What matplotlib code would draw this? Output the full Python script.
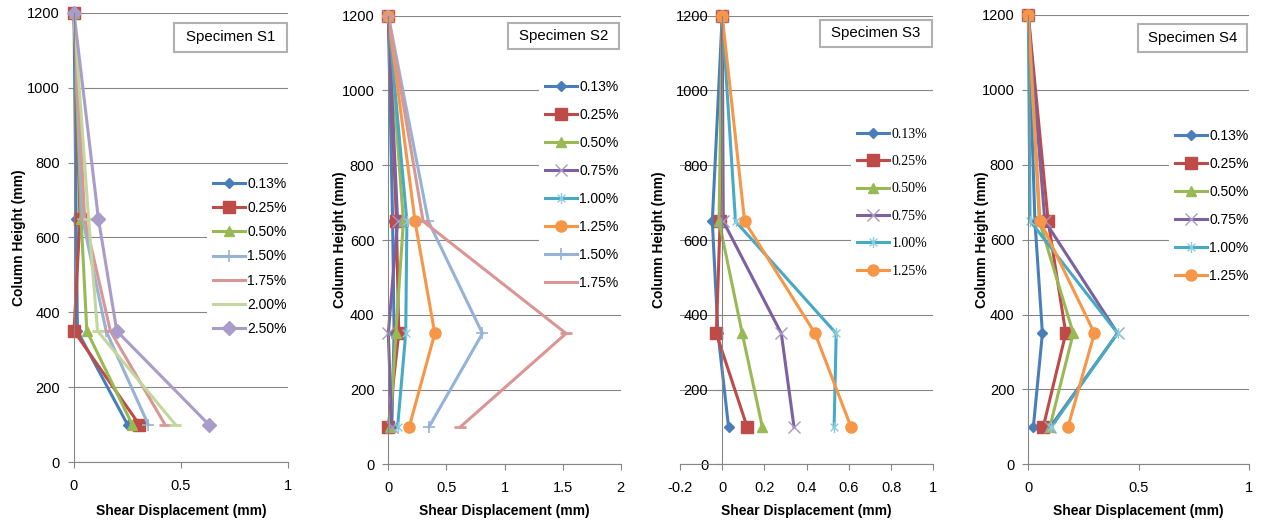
import matplotlib
matplotlib.use("Agg")
import matplotlib.pyplot as plt
from matplotlib.patches import Rectangle
from matplotlib.path import Path

plt.rcParams["font.family"] = ["Liberation Sans", "DejaVu Sans"]

# column heights where displacement was measured (mm)
heights = [100, 350, 650, 1200]

# specimen S1
s1_labels = ["0.13%", "0.25%", "0.50%", "1.50%", "1.75%", "2.00%", "2.50%"]
s1_values = [
    [0.25, 0.016, 0.01, 0.0],
    [0.305, 0.0, 0.028, 0.0],
    [0.272, 0.06, 0.033, 0.0],
    [0.347, 0.15, 0.04, 0.0],
    [0.425, 0.17, 0.05, 0.0],
    [0.474, 0.11, 0.068, 0.0],
    [0.63, 0.20, 0.114, 0.0],
]

# specimen S2
s2_labels = ["0.13%", "0.25%", "0.50%", "0.75%", "1.00%", "1.25%", "1.50%", "1.75%"]
s2_values = [
    [0.03, 0.05, 0.037, 0.0],
    [0.0, 0.09, 0.07, 0.0],
    [0.015, 0.065, 0.13, 0.0],
    [0.03, 0.0, 0.08, 0.0],
    [0.08, 0.15, 0.16, 0.0],
    [0.18, 0.40, 0.23, 0.0],
    [0.35, 0.81, 0.345, 0.0],
    [0.62, 1.53, 0.30, 0.0],
]

# specimen S3
s3_labels = ["0.13%", "0.25%", "0.50%", "0.75%", "1.00%", "1.25%"]
s3_values = [
    [0.03, -0.02, -0.047, 0.0],
    [0.118, -0.028, -0.01, 0.0],
    [0.19, 0.095, -0.015, 0.0],
    [0.34, 0.28, 0.005, 0.0],
    [0.53, 0.54, 0.063, 0.0],
    [0.61, 0.44, 0.106, 0.0],
]

# specimen S4
s4_labels = ["0.13%", "0.25%", "0.50%", "0.75%", "1.00%", "1.25%"]
s4_values = [
    [0.023, 0.064, 0.03, 0.0],
    [0.068, 0.17, 0.09, 0.0],
    [0.098, 0.204, 0.05, 0.0],
    [0.10, 0.405, 0.075, 0.0],
    [0.105, 0.405, 0.008, 0.0],
    [0.18, 0.30, 0.053, 0.0],
]

# Excel-like asterisk marker
star = Path(
    [(0, -1), (0, 1), (-0.7, -0.7), (0.7, 0.7), (-0.7, 0.7), (0.7, -0.7)],
    [Path.MOVETO, Path.LINETO, Path.MOVETO, Path.LINETO, Path.MOVETO, Path.LINETO],
)

# line style per drift level: color, marker, marker size, marker edge color, edge width
styles = {
    "0.13%": ("#4A7EBB", "D", 5, "#4A7EBB", 1),
    "0.25%": ("#BE4B48", "s", 8, "#BE4B48", 1),
    "0.50%": ("#98B954", "^", 7.5, "#98B954", 1),
    "0.75%": ("#7D60A0", "x", 8, "#A898C4", 1),
    "1.00%": ("#46AAC5", star, 8, "#8ACBDD", 1),
    "1.25%": ("#F79646", "o", 8, "#F79646", 1),
    "1.50%": ("#95B3D7", "+", 9, "#95B3D7", 1.2),
    "1.75%": ("#D99694", "_", 9, "#D99694", 2),
    "2.00%": ("#C3D69B", "_", 9, "#C3D69B", 2),
    "2.50%": ("#AA9CC8", "D", 7, "#AA9CC8", 1),
}

W, H = 1266, 530
GRAY = "#868686"

# panel layout in pixels: left, right, top, bottom
panels = [
    dict(labels=s1_labels, values=s1_values, title="Specimen S1",
         box=(74, 288, 13, 462), xlim=(0, 1), xstep=0.5, ylab_x=26,
         title_box=(174, 287, 23, 52), leg=(207, 171, 0.74), serif=False),
    dict(labels=s2_labels, values=s2_values, title="Specimen S2",
         box=(388.3, 620.7, 15.7, 464.3), xlim=(0, 2), xstep=0.5, ylab_x=347,
         title_box=(508, 619, 23, 49), leg=(539, 74, 1.01), serif=False),
    dict(labels=s3_labels, values=s3_values, title="Specimen S3",
         box=(680, 933.3, 15.7, 464.3), xlim=(-0.2, 1), xstep=0.2, ylab_x=666,
         title_box=(820, 932, 20, 47), leg=(851, 122, 1.04), serif=True),
    dict(labels=s4_labels, values=s4_values, title="Specimen S4",
         box=(1028.3, 1248.7, 15, 464.3), xlim=(0, 1), xstep=0.5, ylab_x=989,
         title_box=(1138, 1247, 24, 52), leg=(1169, 123, 1.01), serif=False),
]

fig = plt.figure(figsize=(W / 100, H / 100), dpi=100)

for p in panels:
    l, r, t, b = p["box"]
    ax = fig.add_axes([l / W, 1 - b / H, (r - l) / W, (b - t) / H])
    for lab, vals in zip(p["labels"], p["values"]):
        c, m, ms, mec, mew = styles[lab]
        ax.plot(vals, heights, color=c, lw=2.2, marker=m, ms=ms, mfc=mec,
                mec=mec, mew=mew, label=lab, clip_on=False)
    x0, x1 = p["xlim"]
    ax.set_xlim(x0, x1)
    ax.set_ylim(0, 1200)
    n = int(round((x1 - x0) / p["xstep"]))
    ticks = [round(x0 + i * p["xstep"], 2) for i in range(n + 1)]
    ax.set_xticks(ticks)
    ax.set_xticklabels([("%g" % v) for v in ticks])
    ax.set_yticks(range(0, 1201, 200))
    ax.grid(axis="y", color=GRAY, lw=0.8)
    ax.set_axisbelow(True)
    for s in ["top", "right"]:
        ax.spines[s].set_visible(False)
    for s in ["left", "bottom"]:
        ax.spines[s].set_color(GRAY)
        ax.spines[s].set_linewidth(0.8)
    if x0 < 0:
        ax.spines["left"].set_position(("data", 0))
    ax.tick_params(axis="both", direction="out", length=4, width=0.8,
                   color=GRAY, labelsize=10.5)
    ax.tick_params(axis="y", pad=6)
    ax.tick_params(axis="x", pad=8)
    ax.set_xlabel("Shear Displacement (mm)", fontsize=10, fontweight="bold")
    ax.set_ylabel("Column Height (mm)", fontsize=10, fontweight="bold")
    ax.xaxis.set_label_coords(0.5, (b - 504) / (b - t))
    ax.yaxis.set_label_coords((p["ylab_x"] - l) / (r - l), 0.5)

    lx, ly, spacing = p["leg"]
    leg_font = {"family": "Liberation Serif" if p["serif"] else "Liberation Sans",
                "size": 10}
    ax.legend(loc="upper left", bbox_to_anchor=(lx / W, 1 - ly / H),
              bbox_transform=fig.transFigure, prop=leg_font, frameon=True,
              facecolor="white", edgecolor="none", framealpha=1, fancybox=False,
              borderaxespad=0, borderpad=0.4, handlelength=2.3,
              handletextpad=0.2, labelspacing=spacing)

    bx0, bx1, by0, by1 = p["title_box"]
    fig.add_artist(Rectangle((bx0 / W, 1 - by1 / H), (bx1 - bx0) / W,
                             (by1 - by0) / H, transform=fig.transFigure,
                             facecolor="white", edgecolor="#B0B0B0", lw=1.5))
    fig.text((bx0 + bx1) / 2 / W, 1 - (by0 + by1) / 2 / H, p["title"],
             ha="center", va="center", fontsize=10.8)

fig.savefig("out.png", dpi=100)
